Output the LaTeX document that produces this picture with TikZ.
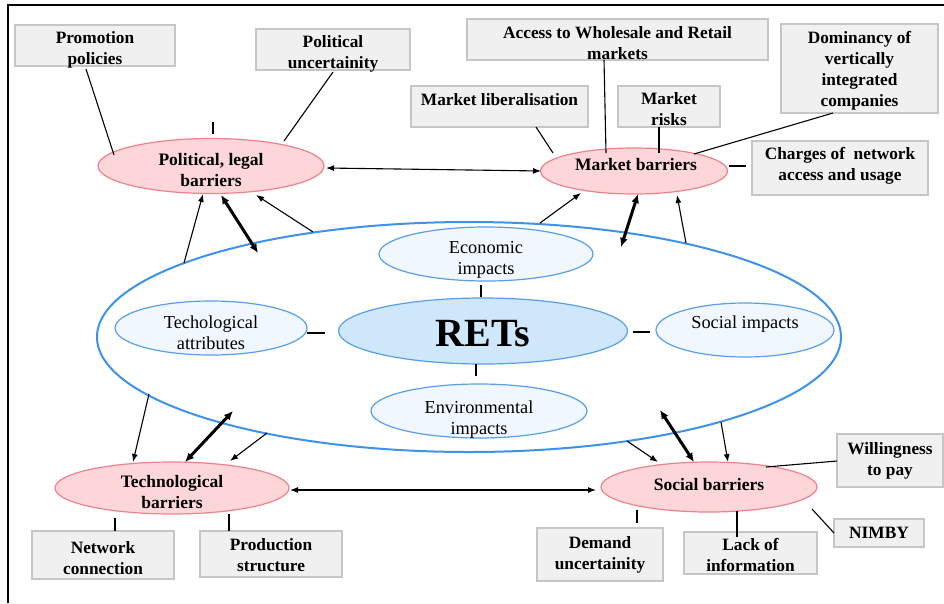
\documentclass[tikz,border=0pt]{standalone}
\usepackage{fontspec}
\setmainfont{Liberation Serif}
\usetikzlibrary{shapes.geometric,arrows.meta}
\definecolor{boxfill}{RGB}{240,240,240}
\definecolor{boxline}{RGB}{198,198,198}
\definecolor{redfill}{RGB}{252,214,216}
\definecolor{redline}{RGB}{238,130,140}
\definecolor{bigblue}{RGB}{62,146,232}
\definecolor{inblue}{RGB}{88,158,232}
\definecolor{infill}{RGB}{240,247,254}
\definecolor{retfill}{RGB}{206,231,251}
\begin{document}
\begin{tikzpicture}[x=1pt,y=-1pt,
  gbox/.style={draw=boxline,fill=boxfill,line width=1.2pt,inner sep=0pt},
  btxt/.style={align=center,inner sep=0pt,font=\fontsize{17.3}{21}\selectfont\bfseries},
  redell/.style={ellipse,draw=redline,fill=redfill,line width=1.2pt,inner sep=0pt},
  inell/.style={ellipse,draw=inblue,fill=infill,line width=1.2pt,inner sep=0pt},
  redtxt/.style={align=center,inner sep=0pt,font=\fontsize{17.5}{21}\selectfont\bfseries},
  intxt/.style={align=center,inner sep=0pt,font=\fontsize{18.3}{21}\selectfont},
  conn/.style={line width=1.1pt},
  thinarr/.style={line width=1.1pt,-{Latex[length=8pt,width=6pt]}},
  thickarr/.style={line width=3pt,{Latex[length=9pt,width=8pt]}-{Latex[length=9pt,width=8pt]}},
  dblarr/.style={line width=1.1pt,{Latex[length=8pt,width=6pt]}-{Latex[length=8pt,width=6pt]}}
]
\useasboundingbox (0,0) rectangle (944,603);
\draw[line width=2pt] (8,603) -- (8,5) -- (944,5);

% big blue ellipse
\node[ellipse,draw=bigblue,line width=2pt,minimum width=744,minimum height=230,inner sep=0pt] (big) at (469,337) {};

% inner ellipses
\node[inell,minimum width=214,minimum height=54] (eco) at (486,254) {};
\node[intxt] (ecot) at ([yshift=-5.5pt]eco.center) {Economic\\impacts};
\node[inell,fill=retfill,minimum width=289,minimum height=66] (ret) at (483,331) {};
\node[inner sep=0pt,font=\fontsize{40}{40}\selectfont\bfseries] (rett) at ([yshift=-2.5pt]ret.center) {RETs};
\node[inell,minimum width=216,minimum height=54] (env) at (479,411) {};
\node[intxt] (envt) at ([yshift=-9pt]env.center) {Environmental\\impacts};
\node[inell,minimum width=192,minimum height=54] (tat) at (211,328) {};
\node[intxt] (tatt) at ([yshift=-4.5pt]tat.center) {Techological\\attributes};
\node[inell,minimum width=178,minimum height=54] (soi) at (745,330) {};
\node[intxt] (soit) at ([yshift=6pt]soi.center) {Social impacts};

% red barrier ellipses
\node[redell,minimum width=226,minimum height=55] (pol) at (211,166) {};
\node[redtxt] (polt) at ([yshift=-4pt]pol.center) {Political, legal\\barriers};
\node[redell,minimum width=187,minimum height=46] (mkt) at (634,171) {};
\node[redtxt] (mktt) at ([xshift=2pt,yshift=6pt]mkt.center) {Market barriers};
\node[redell,minimum width=234,minimum height=52] (tec) at (172,488) {};
\node[redtxt] (tect) at ([yshift=-4pt]tec.center) {Technological\\barriers};
\node[redell,minimum width=216,minimum height=50] (soc) at (709,487) {};
\node[redtxt] (soct) at ([yshift=2pt]soc.center) {Social barriers};

% gray boxes
\node[gbox,minimum width=160,minimum height=41] (promo) at (95,45.5) {};
\node[btxt] (promot) at ([yshift=-4pt]promo.center) {Promotion\\policies};
\node[gbox,minimum width=154,minimum height=41] (puncert) at (333,49.5) {};
\node[btxt] (puncertt) at ([yshift=-4pt]puncert.center) {Political\\uncertainity};
\node[gbox,minimum width=301,minimum height=41] (access) at (617.5,39.5) {};
\node[btxt] (accesst) at ([yshift=-3.5pt]access.center) {Access to Wholesale and Retail\\markets};
\node[gbox,minimum width=177,minimum height=41] (liber) at (499.5,106.5) {};
\node[btxt] (libert) at ([yshift=-3pt]liber.center) {Market liberalisation\\\mbox{}};
\node[gbox,minimum width=102,minimum height=41] (risks) at (669,106.5) {};
\node[btxt] (riskst) at ([yshift=-3pt]risks.center) {Market\\risks};
\node[gbox,minimum width=157,minimum height=89] (domin) at (859.5,68.5) {};
\node[btxt] (domint) at ([yshift=-2pt]domin.center) {Dominancy of\\vertically\\integrated\\companies};
\node[gbox,minimum width=176,minimum height=54] (charges) at (840,168) {};
\node[btxt] (chargest) at ([yshift=2pt]charges.center) {Charges of \ network\\access and usage};
\node[gbox,minimum width=142,minimum height=48] (netw) at (103,555) {};
\node[btxt] (netwt) at ([yshift=-3pt]netw.center) {Network\\connection};
\node[gbox,minimum width=142,minimum height=46] (prod) at (271,554) {};
\node[btxt] (prodt) at ([yshift=-1pt]prod.center) {Production\\structure};
\node[gbox,minimum width=126,minimum height=53] (demand) at (600,554.5) {};
\node[btxt] (demandt) at (demand.center) {Demand\\uncertainity};
\node[gbox,minimum width=133,minimum height=42] (lack) at (750.5,553) {};
\node[btxt] (lackt) at ([yshift=-2pt]lack.center) {Lack of\\information};
\node[gbox,minimum width=106,minimum height=53] (will) at (890,460.5) {};
\node[btxt] (willt) at (will.center) {Willingness\\to pay};
\node[gbox,minimum width=90,minimum height=28] (nimby) at (879,533) {};
\node[btxt] (nimbyt) at (nimby.center) {NIMBY};

% coordinates for free ends
\coordinate (c1) at (481,285); \coordinate (c2) at (481,297);
\coordinate (c3) at (476,364); \coordinate (c4) at (476,376);
\coordinate (c5) at (307,333); \coordinate (c6) at (325,333);
\coordinate (c7) at (633,332); \coordinate (c8) at (650,332);
\coordinate (p1) at (213,122); \coordinate (p2) at (213,134);
\coordinate (pr1) at (86,69); \coordinate (pr2) at (114,155);
\coordinate (pu1) at (333,72); \coordinate (pu2) at (284,141);
\coordinate (pm1) at (326,168); \coordinate (pm2) at (541,171);
\coordinate (ml1) at (536,127); \coordinate (ml2) at (553,153);
\coordinate (ac1) at (604,60); \coordinate (ac2) at (606,153);
\coordinate (mr1) at (659,127); \coordinate (mr2) at (659,153);
\coordinate (dm1) at (833,113); \coordinate (dm2) at (694,154);
\coordinate (ch1) at (729,166); \coordinate (ch2) at (746,166);
\coordinate (a1s) at (184,263); \coordinate (a1e) at (203,194);
\coordinate (a2s) at (258,253); \coordinate (a2e) at (221,195);
\coordinate (a3s) at (313,232); \coordinate (a3e) at (256,195);
\coordinate (b1s) at (540,223); \coordinate (b1e) at (581,193);
\coordinate (b2s) at (621,247); \coordinate (b2e) at (638,194);
\coordinate (b3s) at (686,243); \coordinate (b3e) at (677,195);
\coordinate (t1s) at (149,394); \coordinate (t1e) at (133,462);
\coordinate (t2s) at (233,411); \coordinate (t2e) at (185,462);
\coordinate (t3s) at (267,433); \coordinate (t3e) at (230,461);
\coordinate (ts1) at (290,490); \coordinate (ts2) at (596,490);
\coordinate (s1s) at (627,441); \coordinate (s1e) at (658,462);
\coordinate (s2s) at (660,410); \coordinate (s2e) at (694,462);
\coordinate (s3s) at (721,422); \coordinate (s3e) at (728,462);
\coordinate (n1) at (115,518); \coordinate (n2) at (115,531);
\coordinate (pd1) at (229,514); \coordinate (pd2) at (229,531);
\coordinate (d1) at (637,510); \coordinate (d2) at (637,523);
\coordinate (l1) at (737,511); \coordinate (l2) at (737,537);
\coordinate (w1) at (766,467); \coordinate (w2) at (837,461);
\coordinate (nb1) at (812,509); \coordinate (nb2) at (834,533);

% ticks and connectors
\draw[conn] (c1) -- (c2);
\draw[conn] (c3) -- (c4);
\draw[conn] (c5) -- (c6);
\draw[conn] (c7) -- (c8);
\draw[conn] (p1) -- (p2);
\draw[conn] (pr1) -- (pr2);
\draw[conn] (pu1) -- (pu2);
\draw[dblarr] (pm1) -- (pm2);
\draw[conn] (ml1) -- (ml2);
\draw[conn] (ac1) -- (ac2);
\draw[conn] (mr1) -- (mr2);
\draw[conn] (dm1) -- (dm2);
\draw[conn] (ch1) -- (ch2);
\draw[thinarr] (a1s) -- (a1e);
\draw[thickarr] (a2s) -- (a2e);
\draw[thinarr] (a3s) -- (a3e);
\draw[thinarr] (b1s) -- (b1e);
\draw[thickarr] (b2s) -- (b2e);
\draw[thinarr] (b3s) -- (b3e);
\draw[thinarr] (t1s) -- (t1e);
\draw[thickarr] (t2s) -- (t2e);
\draw[thinarr] (t3s) -- (t3e);
\draw[dblarr] (ts1) -- (ts2);
\draw[thinarr] (s1s) -- (s1e);
\draw[thickarr] (s2s) -- (s2e);
\draw[thinarr] (s3s) -- (s3e);
\draw[conn] (n1) -- (n2);
\draw[conn] (pd1) -- (pd2);
\draw[conn] (d1) -- (d2);
\draw[conn] (l1) -- (l2);
\draw[conn] (w1) -- (w2);
\draw[conn] (nb1) -- (nb2);
\end{tikzpicture}
\end{document}
